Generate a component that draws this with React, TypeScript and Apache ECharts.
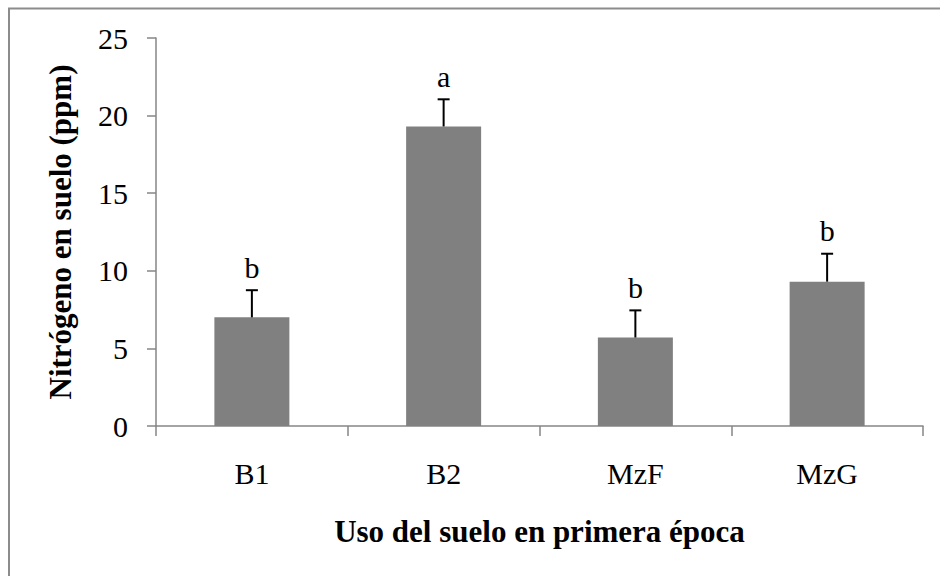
import React, { useEffect, useRef } from "react";
import * as echarts from "echarts";

const categories = ["B1", "B2", "MzF", "MzG"];
const means = [7.0, 19.3, 5.7, 9.3];
const errors = [1.75, 1.75, 1.75, 1.8];
const letters = ["b", "a", "b", "b"];
const yTicks = { min: 0, max: 25, interval: 5 };

const SERIF = "'Liberation Serif', 'Times New Roman', serif";

export default function App() {
  const ref = useRef<HTMLDivElement>(null);
  useEffect(() => {
    if (!ref.current) return;
    const chart = echarts.init(ref.current, undefined, { renderer: "svg" });
    const errData = categories.map((_, i) => [i, means[i], errors[i]]);
    chart.setOption({
      animation: false,
      backgroundColor: "#ffffff",
      graphic: [
        {
          type: "rect",
          shape: { x: 9, y: 8.5, width: 1200, height: 1200 },
          style: { fill: "none", stroke: "#8c8c8c", lineWidth: 2 },
          silent: true,
        },
      ],
      grid: { left: 156, right: 17, top: 38, bottom: 150 },
      xAxis: {
        type: "category",
        data: categories,
        name: "Uso del suelo en primera época",
        nameLocation: "middle",
        nameGap: 90,
        nameTextStyle: { fontFamily: SERIF, fontSize: 31, fontWeight: "bold", color: "#000" },
        axisLine: { show: true, lineStyle: { color: "#868686", width: 1.5 } },
        axisTick: { show: true, alignWithLabel: false, length: 10, lineStyle: { color: "#868686", width: 1.5 } },
        axisLabel: { fontFamily: SERIF, fontSize: 30, color: "#000", margin: 32 },
        splitLine: { show: false },
      },
      yAxis: {
        type: "value",
        min: yTicks.min,
        max: yTicks.max,
        interval: yTicks.interval,
        name: "Nitrógeno en suelo (ppm)",
        nameLocation: "middle",
        nameGap: 80,
        nameTextStyle: { fontFamily: SERIF, fontSize: 31, fontWeight: "bold", color: "#000" },
        axisLine: { show: true, lineStyle: { color: "#868686", width: 1.5 } },
        axisTick: { show: true, inside: false, length: 9, lineStyle: { color: "#868686", width: 1.5 } },
        axisLabel: { fontFamily: SERIF, fontSize: 30, color: "#000", margin: 28 },
        splitLine: { show: false },
      },
      series: [
        {
          type: "bar",
          data: means,
          barWidth: 75,
          itemStyle: { color: "#808080" },
          silent: true,
        },
        {
          type: "custom",
          data: errData,
          encode: { x: 0, y: 1 },
          silent: true,
          z: 10,
          renderItem: (params: any, api: any) => {
            const i = api.value(0);
            const m = api.value(1);
            const e = api.value(2);
            const base = api.coord([i, m]);
            const top = api.coord([i, m + e]);
            const idx = params.dataIndex;
            return {
              type: "group",
              children: [
                {
                  type: "line",
                  shape: { x1: base[0], y1: base[1], x2: top[0], y2: top[1] },
                  style: { stroke: "#000", lineWidth: 2 },
                },
                {
                  type: "line",
                  shape: { x1: top[0] - 6, y1: top[1], x2: top[0] + 6, y2: top[1] },
                  style: { stroke: "#000", lineWidth: 2 },
                },
                {
                  type: "text",
                  x: top[0],
                  y: top[1] - 8,
                  style: {
                    text: letters[idx],
                    fontFamily: SERIF,
                    fontSize: 30,
                    fill: "#000",
                    textAlign: "center",
                    textVerticalAlign: "bottom",
                  },
                },
              ],
            };
          },
        },
      ],
    });
    return () => chart.dispose();
  }, []);
  return (
    <div
      ref={ref}
      style={{ position: "fixed", left: 0, top: 0, width: 940, height: 576, background: "#fff" }}
    />
  );
}
